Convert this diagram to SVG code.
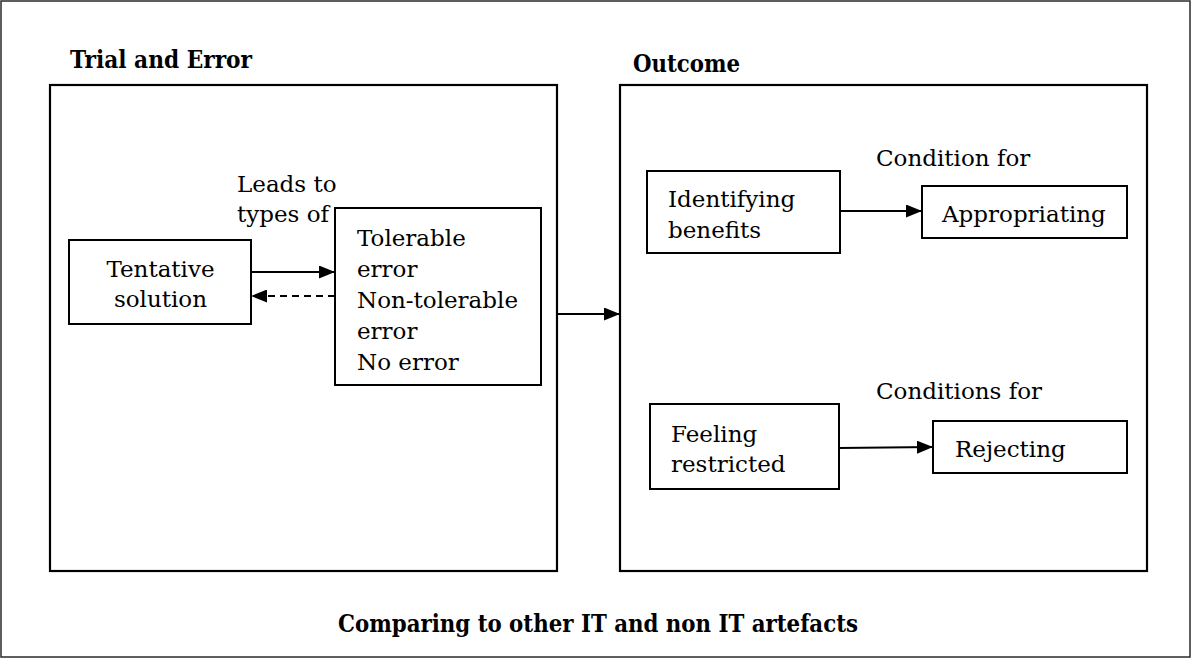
<svg xmlns="http://www.w3.org/2000/svg" width="1192" height="659" viewBox="0 0 1192 659">
<style>
.t{font-family:"DejaVu Serif","Liberation Serif",serif;font-size:23px;fill:#000}
.b{font-family:"DejaVu Serif","Liberation Serif",serif;font-size:24px;font-weight:bold;fill:#000}
.box{fill:#fff;stroke:#000;stroke-width:2}
.big{fill:#fff;stroke:#000;stroke-width:2.2}
.c{stroke:#000;stroke-width:2;fill:none}
</style>
<defs>
<marker id="ah" viewBox="0 0 16 13" refX="16" refY="6.5" markerWidth="16" markerHeight="13" markerUnits="userSpaceOnUse" orient="auto">
<path d="M0,0 L16,6.5 L0,13 z" fill="#000"/>
</marker>
</defs>
<rect x="1" y="1" width="1189" height="656" fill="#fff" stroke="#2a2a2a" stroke-width="1.5"/>
<g id="trial-and-error">
<rect class="big" x="50" y="85" width="507" height="486"/>
<text class="b" x="70" y="68" textLength="182" lengthAdjust="spacingAndGlyphs">Trial and Error</text>
</g>
<g id="outcome">
<rect class="big" x="620" y="85" width="527" height="486"/>
<text class="b" x="633" y="72" textLength="107" lengthAdjust="spacingAndGlyphs">Outcome</text>
</g>
<g id="tentative-solution">
<rect class="box" x="69" y="240" width="182" height="84"/>
<text class="t" x="160.5" y="277" text-anchor="middle">Tentative</text>
<text class="t" x="160.5" y="307" text-anchor="middle">solution</text>
</g>
<g id="errors">
<rect class="box" x="335" y="208" width="206" height="177"/>
<text class="t" x="357" y="246">Tolerable</text>
<text class="t" x="357" y="277">error</text>
<text class="t" x="357" y="308">Non-tolerable</text>
<text class="t" x="357" y="339">error</text>
<text class="t" x="357" y="370">No error</text>
</g>
<g id="identifying-benefits">
<rect class="box" x="647" y="171" width="193" height="82"/>
<text class="t" x="668" y="207">Identifying</text>
<text class="t" x="668" y="238">benefits</text>
</g>
<g id="appropriating">
<rect class="box" x="922" y="186" width="205" height="52"/>
<text class="t" x="942" y="222">Appropriating</text>
</g>
<g id="feeling-restricted">
<rect class="box" x="650" y="404" width="189" height="85"/>
<text class="t" x="671" y="442">Feeling</text>
<text class="t" x="671" y="472">restricted</text>
</g>
<g id="rejecting">
<rect class="box" x="933" y="421" width="194" height="52"/>
<text class="t" x="955" y="457">Rejecting</text>
</g>
<g id="connectors">
<line class="c" x1="251" y1="272" x2="335" y2="272" marker-end="url(#ah)"/>
<line class="c" x1="335" y1="296" x2="251" y2="296" stroke-dasharray="7,5" marker-end="url(#ah)"/>
<line class="c" x1="557" y1="314" x2="620" y2="314" marker-end="url(#ah)"/>
<line class="c" x1="840" y1="211" x2="922" y2="211" marker-end="url(#ah)"/>
<line class="c" x1="839" y1="448" x2="933" y2="447" marker-end="url(#ah)"/>
</g>
<g id="labels">
<text class="t" x="237" y="192">Leads to</text>
<text class="t" x="237" y="222">types of</text>
<text class="t" x="876" y="166">Condition for</text>
<text class="t" x="876" y="399">Conditions for</text>
<text class="b" x="338" y="632" textLength="520" lengthAdjust="spacingAndGlyphs">Comparing to other IT and non IT artefacts</text>
</g>
</svg>
